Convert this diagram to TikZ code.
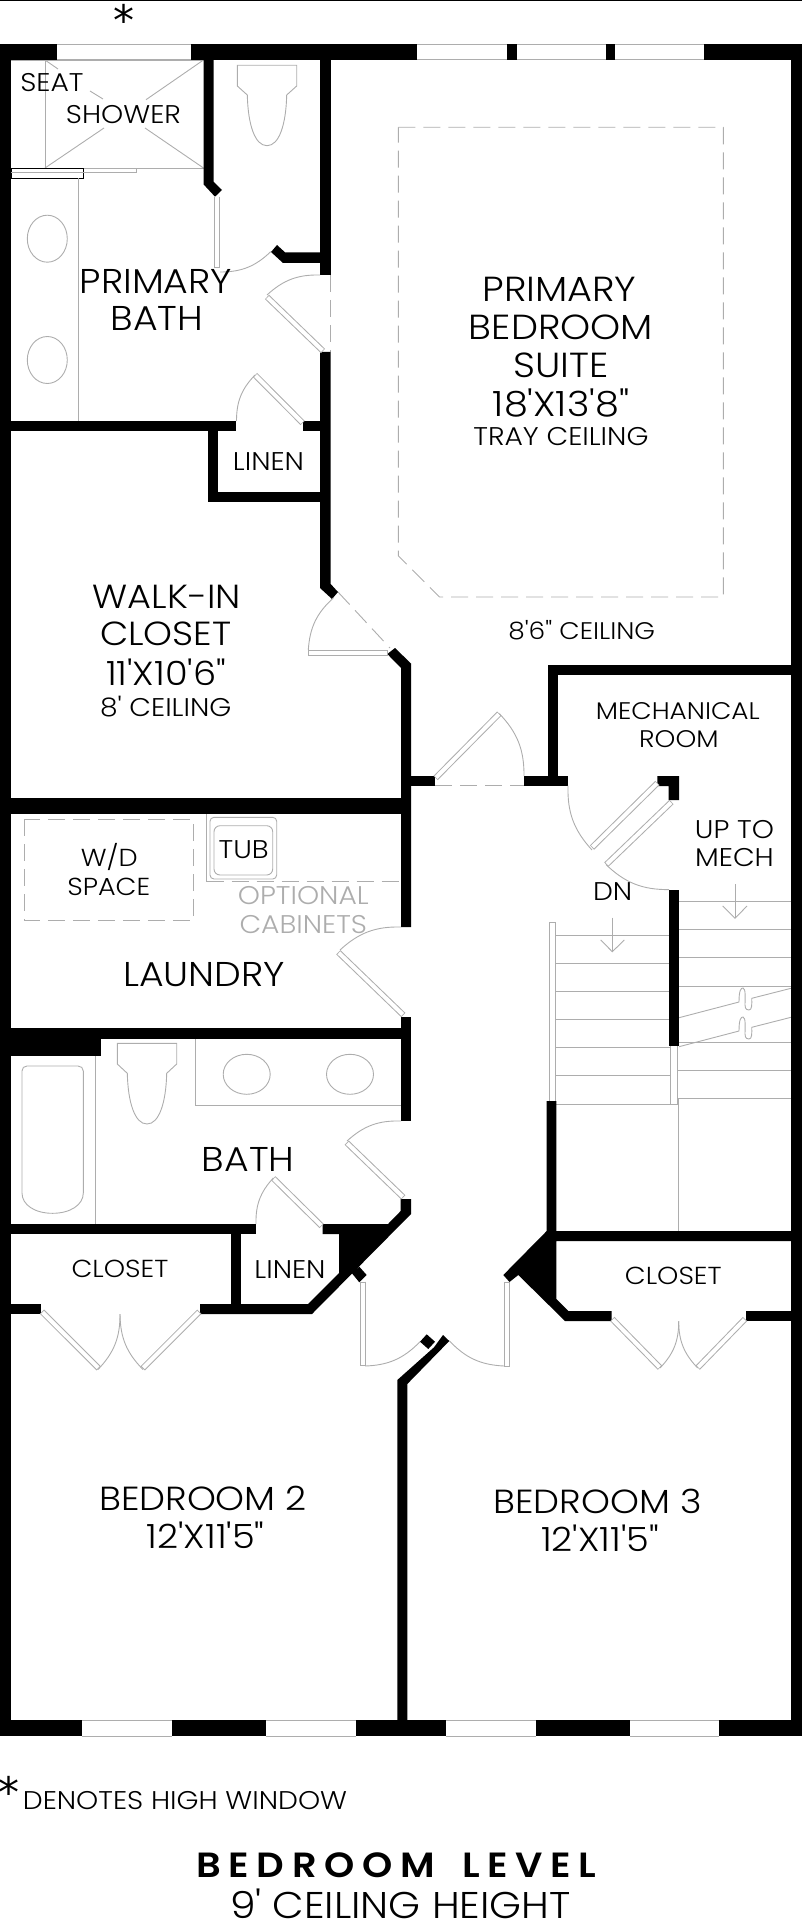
\documentclass[tikz,border=0pt]{standalone}
\usepackage{fontspec}
\setmainfont[Ligatures=TeXOff,FakeStretch=1.1]{Poppins Light}
\newfontfamily\titlefont[LetterSpace=22,FakeStretch=1.1,WordSpace=1.6]{Poppins SemiBold}
\newfontfamily\starfont{DejaVu Sans}
\definecolor{lg}{gray}{0.68}
\tikzset{
 wall/.style={fill=black,draw=none},
 thin line/.style={draw=lg,line width=.45pt},
 dashline/.style={draw=lg,line width=.45pt,dash pattern=on 8.5pt off 4pt},
 win/.style={draw=lg,line width=.5pt},
 leafout/.style={draw=lg,line width=3pt},
 leafin/.style={draw=white,line width=2pt,shorten >=.4pt,shorten <=.4pt},
 swing/.style={draw=lg,line width=.45pt},
 lab/.style={inner sep=0pt,text=black,align=center},
 xl/.style={lab,font=\fontsize{17.4}{20}\selectfont},
 xlb/.style={lab,font=\fontsize{16.7}{20}\selectfont},
 lg1/.style={lab,font=\fontsize{17.2}{20}\selectfont},
 md/.style={lab,font=\fontsize{12.8}{15}\selectfont},
 mdb/.style={lab,font=\fontsize{12.3}{15}\selectfont},
 sm/.style={lab,font=\fontsize{12}{14}\selectfont},
 opt/.style={lab,text=lg,font=\fontsize{12.8}{15}\selectfont},
 starmark/.style={lab,font=\starfont\fontsize{21}{21}\selectfont},
}
\newcommand{\leafdoor}[2]{\draw[leafout] #1 -- #2; \draw[leafin] #1 -- #2;}
\begin{document}
\begin{tikzpicture}[x=.5pt,y=-.5pt]
\useasboundingbox (0,0) rectangle (802,1920);
\draw[line width=.5pt] (0,.6) -- (802,.6);
% thin fixtures first
% shower
\draw[thin line] (11,60.3) -- (203.5,60.3);
\draw[thin line] (45,60) -- (45,168.3) -- (203.5,168.3);
\draw[thin line] (45,60) -- (58,69);
\draw[thin line] (90,91) -- (103,99);
\draw[thin line] (203.5,60) -- (146,99.7);
\draw[thin line] (45,168) -- (104,128);
\draw[thin line] (203.5,168) -- (145,128);
\draw[thin line] (83.5,172.5) -- (136,172.5) -- (136,168.3);
\draw[line width=.45pt] (11,168.3) rectangle (83.5,178.3);
\draw[thin line] (11,172.5) -- (83.5,172.5);
\draw[thin line] (78.7,178.3) -- (78.7,421);
\draw[thin line] (47.3,238.7) ellipse (20 and 23.5);
\draw[thin line] (47.3,360) ellipse (20 and 23.5);
% primary toilet
\draw[thin line] (247.3,95) -- (237.3,86) -- (237.3,65.3) -- (296.7,65.3) -- (296.7,86) -- (286.7,95) .. controls (286,125) and (279,145.7) .. (267,145.7) .. controls (255,145.7) and (248,125) .. (247.3,95);
% tray ceiling
\draw[dashline] (398.3,127.3) -- (723.3,127.3) -- (723.3,597) -- (439.4,597) -- (398.3,555.7) -- cycle;
% laundry
\draw[dashline] (24.3,819.3) rectangle (193.3,920.7);
\draw[thin line,rounded corners=2pt] (210,817.3) rectangle (276.7,879);
\draw[thin line,rounded corners=3pt] (214,825.7) rectangle (272.7,875);
\draw[thin line] (206.7,814) -- (206.7,881.7);
\draw[dashline] (206.7,881.7) -- (401,881.7);
% bath
\draw[thin line] (95.7,1055) -- (95.7,1224);
\draw[thin line] (27,1066) -- (78,1066) .. controls (81,1066) and (83.3,1068) .. (83.3,1071) -- (83.3,1193) .. controls (83.3,1205) and (70,1213.3) .. (52.6,1213.3) .. controls (35,1213.3) and (22,1205) .. (22,1193) -- (22,1071) .. controls (22,1068) and (24,1066) .. (27,1066);
\draw[thin line] (127.3,1073.3) -- (117.3,1064) -- (117.3,1043.3) -- (176.7,1043.3) -- (176.7,1064) -- (166.7,1073.3) .. controls (166,1103) and (159,1124) .. (147,1124) .. controls (135,1124) and (128,1103) .. (127.3,1073.3);
\draw[thin line] (195.3,1038.7) -- (195.3,1105) -- (401,1105);
\draw[thin line] (246.7,1074.3) ellipse (23.5 and 20);
\draw[thin line] (350,1074.3) ellipse (23.5 and 20);
% stairs
\draw[thin line] (549.3,1101) -- (549.3,922.3) -- (555.7,922.3) -- (555.7,1104.3);
\foreach \y in {935,963.3,991,1019.3,1047.3,1075.7} \draw[thin line] (555.7,\y) -- (669.5,\y);
\draw[thin line] (555.7,1104.3) -- (678.3,1104.3);
\draw[thin line] (670.3,1045.7) rectangle (677.3,1104.3);
\draw[thin line] (678.3,1098.3) -- (678.3,1231);
\foreach \y in {901.3,929.3,957.7,986} \draw[thin line] (679,\y) -- (791,\y);
\foreach \y in {1042.3,1070.3,1098.3} \draw[thin line] (677.3,\y) -- (791,\y);
\foreach \d in {0,29} {
 \draw[thin line] (679,1017.7+\d) -- (739,1002+\d) .. controls (739,990+\d) and (741,988+\d) .. (743,988+\d) .. controls (746,988+\d) and (745,1000+\d) .. (745,1005+\d) .. controls (745,1010+\d) and (748,1010+\d) .. (749,1010+\d) .. controls (752,1010+\d) and (752,1004+\d) .. (751.7,998.3+\d) -- (791,988.3+\d);
}
\draw[thin line] (612.3,917.7) -- (612.3,951.7);
\draw[thin line] (600.7,940) -- (612.3,951.7) -- (624.3,940);
\draw[thin line] (735,884) -- (735,918.3);
\draw[thin line] (722.7,906) -- (735,918.3) -- (747,906);
% door thresholds
\draw[dashline] (330.7,275) -- (330.7,352);
\draw[dashline] (338,592) -- (390,648);
\draw[dashline] (435,785.7) -- (524,785.7);
% outer walls
\fill[wall] (0,44) rectangle (11,1736);
\fill[wall] (791,44) rectangle (802,1736);
\fill[wall] (0,44) rectangle (57,60);
\fill[wall] (191,44) rectangle (417,60);
\fill[wall] (507,44) rectangle (517,60);
\fill[wall] (606,44) rectangle (615,60);
\fill[wall] (704,44) rectangle (802,60);
\fill[wall] (0,1720) rectangle (82,1736);
\fill[wall] (172,1720) rectangle (266,1736);
\fill[wall] (355.5,1720) rectangle (446,1736);
\fill[wall] (536,1720) rectangle (630,1736);
\fill[wall] (719,1720) rectangle (802,1736);
% windows
\foreach \a/\b in {57/191,417/507,517/606,615/704} {
 \draw[win] (\a,44.4) -- (\b,44.4); \draw[win] (\a,60) -- (\b,60);
}
\foreach \a/\b in {82/172,266/355.5,446/536,630/719} {
 \draw[win] (\a,1720) -- (\b,1720); \draw[win] (\a,1736) -- (\b,1736);
}
% interior walls
\fill[wall] (203.5,60) -- (213.5,60) -- (213.5,181.7) -- (222,190) -- (215,196.7) -- (203.5,184.3) -- cycle;
\fill[wall] (320,60) rectangle (330.7,275);
\fill[wall] (320,252.3) -- (320,263) -- (283,263) -- (271,252) -- (277,245) -- (285,252.3) -- cycle;
\fill[wall] (320,352) -- (330.7,352) -- (330.7,584) -- (338,592) -- (332,599) -- (320,588) -- cycle;
\fill[wall] (11,420.7) rectangle (236,431);
\fill[wall] (303,420.7) rectangle (320,431);
\fill[wall] (207.7,431) rectangle (218,502);
\fill[wall] (207.7,492) rectangle (320,502);
\fill[wall] (387.3,654) -- (395,648) -- (411,663.5) -- (411,927) -- (401,927) -- (401,668) -- cycle;
\fill[wall] (11,798) rectangle (401,814);
\fill[wall] (411,776) rectangle (435,785.7);
\fill[wall] (524,776) rectangle (567.6,785.7);
\fill[wall] (548,664.6) rectangle (558.4,776);
\fill[wall] (548,664.6) rectangle (791,674.6);
\fill[wall] (657.4,776) -- (679.2,776) -- (679.2,800) -- (668.7,800) -- (668.7,786) -- (657.4,786) -- cycle;
\fill[wall] (669,889.7) rectangle (679,1045.5);
\fill[wall] (11,1027.7) rectangle (401,1038.7);
\fill[wall] (11,1027.7) rectangle (101,1055.7);
\fill[wall] (401,1016.7) rectangle (411,1121);
\fill[wall] (400.7,1199) -- (411,1199) -- (411,1214) -- (312,1314) -- (200,1314) -- (200,1304) -- (308,1304) -- (339,1273) -- (339,1234) -- (322.7,1234) -- (322.7,1224) -- (388,1224) -- (400.7,1211) -- cycle;
\fill[wall] (351.7,1273) -- (359.3,1266.7) -- (366.7,1275) -- (359.3,1282.3) -- cycle;
\fill[wall] (11,1224) rectangle (255.7,1234);
\fill[wall] (230.7,1234) rectangle (241,1304);
\fill[wall] (11,1304) rectangle (41.3,1314);
\fill[wall] (397.3,1720) -- (407.3,1720) -- (407.3,1384) -- (449.3,1341) -- (443,1335) -- (434,1347.3) -- (397.3,1380) -- cycle;
\fill[wall] (420,1341.7) -- (426.7,1334.3) -- (435,1341.7) -- (428.3,1349) -- cycle;
\fill[wall] (546.7,1101) -- (556.3,1101) -- (556.3,1231) -- (791,1231) -- (791,1241) -- (556.3,1241) -- (556.3,1299) -- (568.3,1311) -- (611.7,1311) -- (611.7,1321) -- (565,1321) -- (518.3,1275) -- (509.5,1282) -- (503.3,1275) -- (546.7,1231) -- cycle;
\fill[wall] (746,1311) rectangle (791,1321);
% doors
\leafdoor{(217.3,196.7)}{(217.3,268)}
\draw[swing] (220,272) to[bend right=22] (270.7,251.7);
\leafdoor{(267,297)}{(323,351)}
\draw[swing] (267,295) to[bend left=22] (320,275);
\leafdoor{(255,375)}{(302.7,423)}
\draw[swing] (255,375) to[bend right=22] (236.5,421);
\leafdoor{(308.3,652.7)}{(388,652.7)}
\draw[swing] (308.3,650) to[bend left=22] (333.3,598);
\leafdoor{(435.6,778)}{(499.3,713.6)}
\draw[swing] (499.3,713.6) to[bend left=22] (524,776);
\leafdoor{(592,847.5)}{(657.4,783)}
\draw[swing] (568,785.7) to[bend right=22] (592,850);
\leafdoor{(606.3,864.6)}{(671.5,802)}
\draw[swing] (606,864.6) to[bend right=22] (669,889.6);
\leafdoor{(338.3,952.3)}{(403.3,1015)}
\draw[swing] (340,950) to[bend left=22] (401,927);
\leafdoor{(346.7,1142.7)}{(403.3,1197.3)}
\draw[swing] (347,1141) to[bend left=22] (401,1121);
\leafdoor{(273.3,1178.3)}{(321.7,1226)}
\draw[swing] (273.3,1178) to[bend right=22] (256,1224);
\leafdoor{(42,1311.7)}{(98.7,1368.3)}
\draw[swing] (98,1369.5) to[bend right=22] (120,1314);
\leafdoor{(199.3,1311.7)}{(142.7,1368.3)}
\draw[swing] (143,1369.5) to[bend left=22] (120,1314);
\leafdoor{(362.5,1281.7)}{(362.5,1366)}
\draw[swing] (365,1366) to[bend right=22] (420,1341.7);
\leafdoor{(506.7,1281.7)}{(506.7,1366.7)}
\draw[swing] (504,1366) to[bend left=22] (449.3,1340.7);
\leafdoor{(612.3,1319)}{(660,1367.7)}
\draw[swing] (660,1368) to[bend right=22] (678.7,1321);
\leafdoor{(745,1319)}{(697.7,1367.7)}
\draw[swing] (697.7,1368) to[bend left=22] (678.7,1321);
% labels
\node[starmark] (star1) at (124,20) {*};
\node[md] (seat) at (52,83) {SEAT};
\node[md] (shower) at (123.5,115) {SHOWER};
\node[lg1] (pb1) at (156,281.7) {PRIMARY};
\node[lg1] (pb2) at (157,318) {BATH};
\node[md] (linen1) at (268.5,461.7) {LINEN};
\node[xl] (pbr1) at (559.5,289) {PRIMARY};
\node[xl] (pbr2) at (561,327) {BEDROOM};
\node[xl] (pbr3) at (561,365) {SUITE};
\node[xl] (pbr4) at (561,403) {18'X13'8"};
\node[md] (pbr5) at (561,437) {TRAY CEILING};
\node[sm] (c86) at (581.7,630.7) {8'6" CEILING};
\node[xlb] (wic1) at (166.7,596.7) {WALK-IN};
\node[xlb] (wic2) at (165.7,634) {CLOSET};
\node[xlb] (wic3) at (166,672) {11'X10'6"};
\node[md] (wic4) at (165.7,707) {8' CEILING};
\node[sm] (mech1) at (677.8,711) {MECHANICAL};
\node[sm] (mech2) at (678.9,739.3) {ROOM};
\node[md] (up1) at (734.5,829.6) {UP TO};
\node[md] (up2) at (734.5,858) {MECH};
\node[md] (dn) at (612.7,892) {DN};
\node[mdb] (wd1) at (109.3,857.3) {W/D};
\node[mdb] (wd2) at (108.7,886.7) {SPACE};
\node[md] (tub) at (243.7,849.3) {TUB};
\node[opt] (opt1) at (303.3,895.7) {OPTIONAL};
\node[opt] (opt2) at (303.3,924.3) {CABINETS};
\node[lg1] (laundry) at (204,975) {LAUNDRY};
\node[lg1] (bath) at (248.3,1159) {BATH};
\node[mdb] (cl1) at (120,1269.3) {CLOSET};
\node[md] (linen2) at (290,1269.3) {LINEN};
\node[mdb] (cl2) at (673.3,1276) {CLOSET};
\node[xlb] (br2a) at (203,1498.7) {BEDROOM 2};
\node[xlb] (br2b) at (205.7,1535.5) {12'X11'5"};
\node[xlb] (br3a) at (597.5,1501) {BEDROOM 3};
\node[xlb] (br3b) at (600,1538) {12'X11'5"};
\node[starmark] (star2) at (9.2,1792) {*};
\node[md] (denotes) at (185,1801) {DENOTES HIGH WINDOW};
\node[lab,font=\titlefont\fontsize{17.5}{20}\selectfont] (title) at (396.4,1865) {BEDROOM LEVEL};
\node[lab,font=\fontsize{18.6}{20}\selectfont] (sub) at (400.5,1904) {9' CEILING HEIGHT};
\end{tikzpicture}
\end{document}
